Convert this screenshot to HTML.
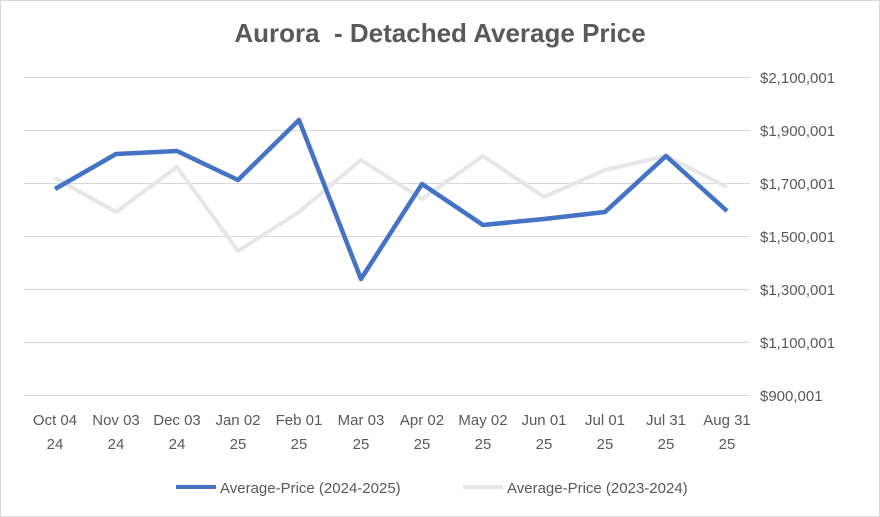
<!DOCTYPE html>
<html><head><meta charset="utf-8"><style>
body{margin:0;background:#fff}
svg{display:block;font-family:"Liberation Sans",sans-serif}
</style></head><body>
<svg width="880" height="517" viewBox="0 0 880 517">
<rect x="0.5" y="0.5" width="879" height="516" fill="#fff" stroke="#d9d9d9"/>
<text x="440" y="42" text-anchor="middle" font-size="26" font-weight="bold" fill="#595959">Aurora&#160; - Detached Average Price</text>
<g stroke="#d9d9d9" stroke-width="1">
<line x1="24" x2="750" y1="77.5" y2="77.5"/>
<line x1="24" x2="750" y1="130.5" y2="130.5"/>
<line x1="24" x2="750" y1="183.5" y2="183.5"/>
<line x1="24" x2="750" y1="236.5" y2="236.5"/>
<line x1="24" x2="750" y1="289.5" y2="289.5"/>
<line x1="24" x2="750" y1="342.5" y2="342.5"/>
<line x1="24" x2="750" y1="395.5" y2="395.5"/>
</g>
<g font-size="15" fill="#595959">
<text x="760" y="83">$2,100,001</text>
<text x="760" y="136">$1,900,001</text>
<text x="760" y="189">$1,700,001</text>
<text x="760" y="242">$1,500,001</text>
<text x="760" y="295">$1,300,001</text>
<text x="760" y="348">$1,100,001</text>
<text x="760" y="401">$900,001</text>
</g>
<g font-size="15" fill="#595959" text-anchor="middle">
<text x="55" y="425">Oct 04</text><text x="55" y="449">24</text>
<text x="116" y="425">Nov 03</text><text x="116" y="449">24</text>
<text x="177" y="425">Dec 03</text><text x="177" y="449">24</text>
<text x="238" y="425">Jan 02</text><text x="238" y="449">25</text>
<text x="299" y="425">Feb 01</text><text x="299" y="449">25</text>
<text x="361" y="425">Mar 03</text><text x="361" y="449">25</text>
<text x="422" y="425">Apr 02</text><text x="422" y="449">25</text>
<text x="483" y="425">May 02</text><text x="483" y="449">25</text>
<text x="544" y="425">Jun 01</text><text x="544" y="449">25</text>
<text x="605" y="425">Jul 01</text><text x="605" y="449">25</text>
<text x="666" y="425">Jul 31</text><text x="666" y="449">25</text>
<text x="727" y="425">Aug 31</text><text x="727" y="449">25</text>
</g>
<polyline fill="none" stroke="#e6e6e6" stroke-width="4" stroke-linejoin="round" points="55,178 116,212 177,167 238,251 299,212 361,160 422,199 483,156 544,197 605,170 666,156 727,187"/>
<polyline fill="none" stroke="#4472c4" stroke-width="4.5" stroke-linejoin="round" points="55,189 116,154 177,151 238,180 299,120 361,279 422,184 483,225 544,219 605,212 666,156 727,211"/>
<line x1="176" x2="216" y1="487" y2="487" stroke="#4472c4" stroke-width="4"/>
<text x="220" y="493" font-size="15" fill="#595959">Average-Price (2024-2025)</text>
<line x1="463" x2="503" y1="487" y2="487" stroke="#e6e6e6" stroke-width="4"/>
<text x="507" y="493" font-size="15" fill="#595959">Average-Price (2023-2024)</text>
</svg>
</body></html>
